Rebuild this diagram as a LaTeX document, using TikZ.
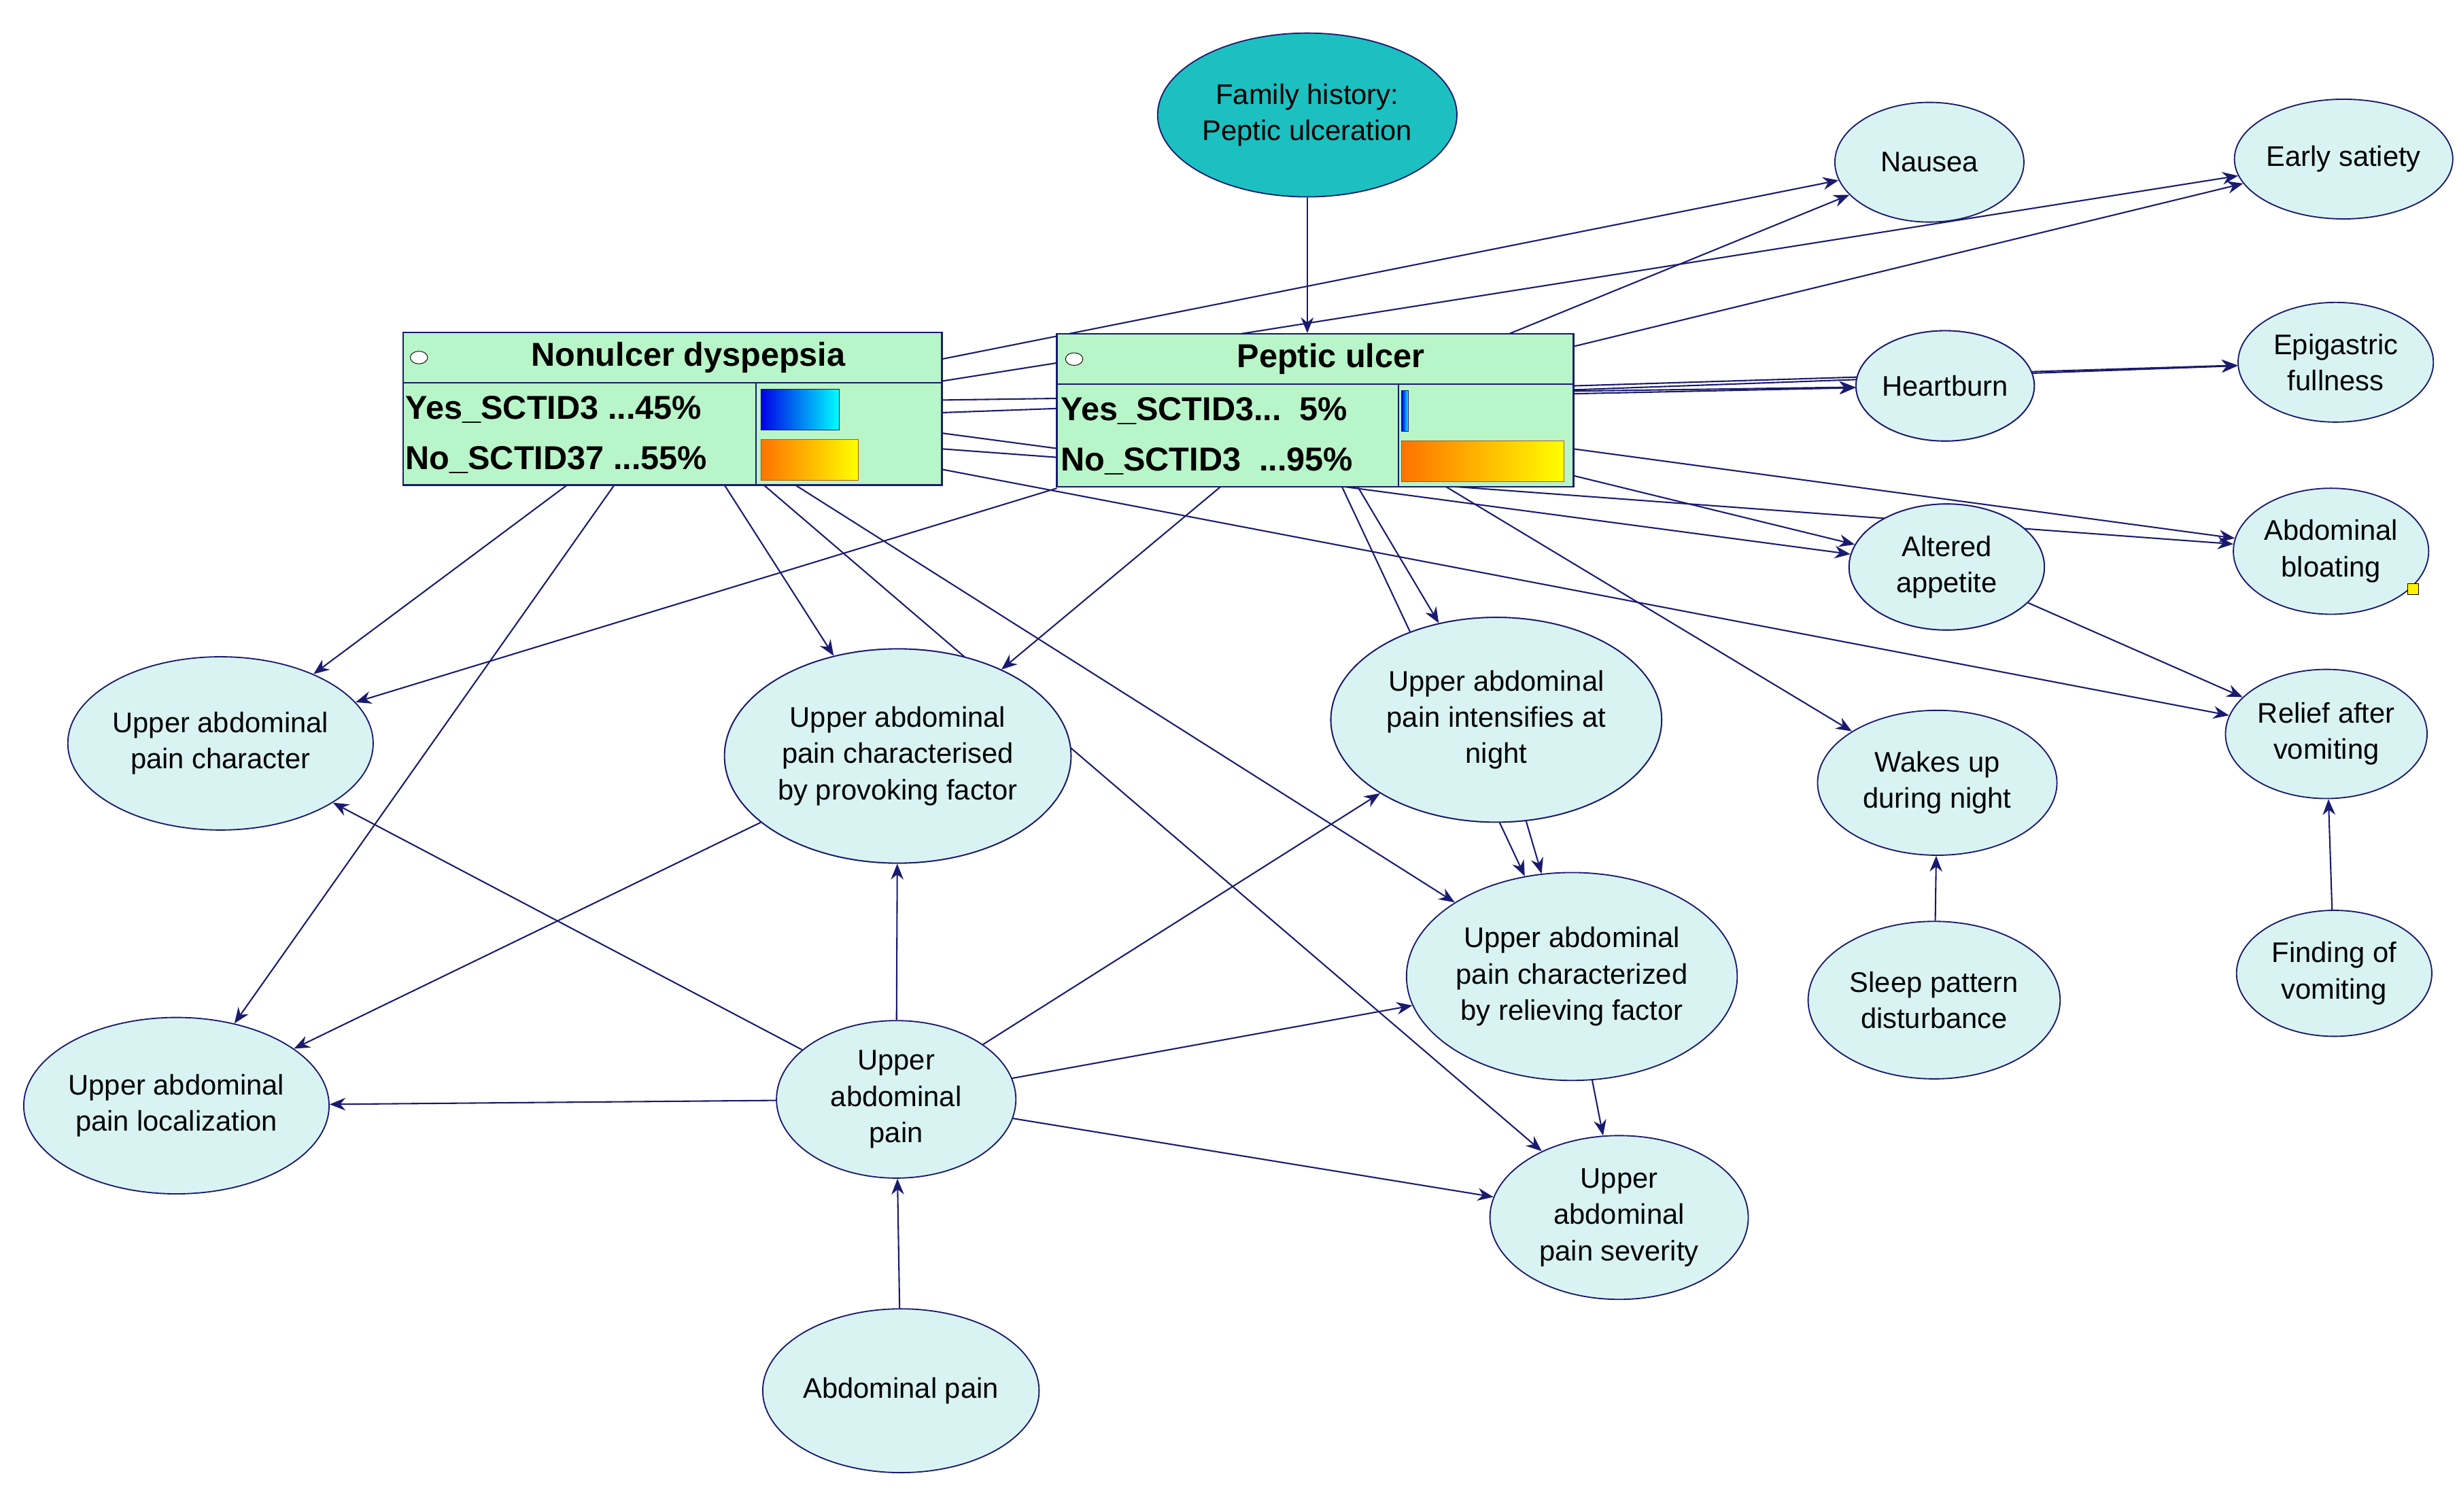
\documentclass[tikz,border=0pt]{standalone}
\usepackage{fontspec}
\setmainfont{Liberation Sans}
\usetikzlibrary{arrows.meta,shapes.geometric}
\definecolor{nv}{HTML}{1A1A70}
\definecolor{nf}{HTML}{D9F3F3}
\definecolor{bx}{HTML}{B8F5C8}
\definecolor{fh}{HTML}{1CC0C0}
\begin{document}
\begin{tikzpicture}[x=1pt,y=-1pt,
  nd/.style={ellipse,draw=nv,line width=0.8pt,fill=nf,align=center,inner sep=0pt,font=\fontsize{18}{23}\selectfont},
  ed/.style={draw=nv,line width=0.9pt,-{Stealth[length=10pt,width=8pt]}},
  st/.style={anchor=west,font=\bfseries\fontsize{21}{24}\selectfont}]
\useasboundingbox (0,0) rectangle (1560,960);
\newcommand{\el}[6]{\node[nd,minimum width=#4pt,minimum height=#5pt#6] (#1) at #2 {#3};}
\node[draw=nv,line width=1pt,fill=bx,minimum width=342pt,minimum height=97pt,inner sep=0pt] (NU) at (427,259.5) {};
\node[draw=nv,line width=1pt,fill=bx,minimum width=328pt,minimum height=97pt,inner sep=0pt] (PU) at (835,260.5) {};
\el{FH}{(830,73)}{Family history:\\Peptic ulceration}{190}{104}{,fill=fh}
\el{NA}{(1225,103)}{Nausea}{120}{76}{}
\el{ES}{(1488,101)}{Early satiety}{122}{76}{}
\el{HB}{(1235,245)}{Heartburn}{106}{70}{}
\el{EF}{(1483,230)}{Epigastric\\fullness}{124}{76}{}
\el{AA}{(1236,360)}{Altered\\appetite}{124}{80}{}
\el{AB}{(1480,350)}{Abdominal\\bloating}{124}{80}{}
\el{RV}{(1477,466)}{Relief after\\vomiting}{128}{82}{}
\el{WU}{(1230,497)}{Wakes up\\during night}{152}{92}{}
\el{SP}{(1228,635)}{Sleep pattern\\disturbance}{160}{100}{}
\el{FV}{(1482,618)}{Finding of\\vomiting}{124}{80}{}
\el{CH}{(140,472)}{Upper abdominal\\pain character}{176}{110}{}
\el{PF}{(570,480)}{Upper abdominal\\pain characterised\\by provoking factor}{220}{136}{}
\el{IN}{(950,457)}{Upper abdominal\\pain intensifies at\\night}{210}{130}{}
\el{RF}{(998,620)}{Upper abdominal\\pain characterized\\by relieving factor}{210}{132}{}
\el{LO}{(112,702)}{Upper abdominal\\pain localization}{180}{112}{}
\el{UP}{(569,698)}{Upper\\abdominal\\pain}{152}{100}{}
\el{SV}{(1028,773)}{Upper\\abdominal\\pain severity}{164}{104}{}
\el{AP}{(572,883)}{Abdominal pain}{172}{104}{}
\draw[ed] (FH) -- (PU.north -| FH);
\draw[ed] (598,228) -- (NA);
\draw[ed] (598,242) -- (ES);
\draw[ed] (958,212) -- (NA);
\draw[ed] (999,220) -- (ES);
\draw[ed] (598,254) -- (HB);
\draw[ed] (999,250) -- (HB);
\draw[ed] (598,262) -- (EF);
\draw[ed] (999,245) -- (EF);
\draw[ed] (598,275) -- (AA);
\draw[ed] (999,302) -- (AA);
\draw[ed] (598,285) -- (AB);
\draw[ed] (999,285) -- (AB);
\draw[ed] (598,298) -- (RV);
\draw[ed] (AA) -- (RV);
\draw[ed] (918,309) -- (WU);
\draw[ed] (SP) -- (WU);
\draw[ed] (FV) -- (RV);
\draw[ed] (360,308) -- (CH);
\draw[ed] (671,310) -- (CH);
\draw[ed] (390,308) -- (LO);
\draw[ed] (460,308) -- (PF);
\draw[ed] (775,309) -- (PF);
\draw[ed] (505,308) -- (RF);
\draw[ed] (485,308) -- (SV);
\draw[ed] (862,309) -- (IN);
\draw[ed] (852,309) -- (RF);
\draw[ed] (IN) -- (RF);
\draw[ed] (RF) -- (SV);
\draw[ed] (PF) -- (LO);
\draw[ed] (UP) -- (CH);
\draw[ed] (UP) -- (LO);
\draw[ed] (UP) -- (PF);
\draw[ed] (UP) -- (IN);
\draw[ed] (UP) -- (RF);
\draw[ed] (UP) -- (SV);
\draw[ed] (AP) -- (UP);
% redraw nodes crossed by edges
\el{HB2}{(1235,245)}{Heartburn}{106}{70}{}
\el{AA2}{(1236,360)}{Altered\\appetite}{124}{80}{}
\el{IN2}{(950,457)}{Upper abdominal\\pain intensifies at\\night}{210}{130}{}
\el{PF2}{(570,480)}{Upper abdominal\\pain characterised\\by provoking factor}{220}{136}{}
% box contents
\node[draw=nv,line width=1pt,fill=bx,minimum width=342pt,minimum height=97pt,inner sep=0pt] (NUb) at (427,259.5) {};
\draw[nv,line width=1pt] (256,243) -- (598,243) (480,243) -- (480,308);
\node[draw=black,fill=white,ellipse,minimum width=11pt,minimum height=8pt,inner sep=0pt] (c1) at (266,227) {};
\node[font=\bfseries\fontsize{21}{24}\selectfont] (t1) at (437,227) {Nonulcer dyspepsia};
\node[st] (y1) at (254,260) {Yes\_SCTID3 ...45\%};
\node[st] (n1) at (254,292) {No\_SCTID37 ...55\%};
\shade[left color=blue!90!black,right color=cyan] (483,247) rectangle (533,273);
\draw[nv] (483,247) rectangle (533,273);
\shade[left color=orange!90!red,right color=yellow] (483,279) rectangle (545,305);
\draw[orange!70!black] (483,279) rectangle (545,305);
\node[draw=nv,line width=1pt,fill=bx,minimum width=328pt,minimum height=97pt,inner sep=0pt] (PUb) at (835,260.5) {};
\draw[nv,line width=1pt] (671,244) -- (999,244) (888,244) -- (888,309);
\node[draw=black,fill=white,ellipse,minimum width=11pt,minimum height=8pt,inner sep=0pt] (c2) at (682,228) {};
\node[font=\bfseries\fontsize{21}{24}\selectfont] (t2) at (845,228) {Peptic ulcer};
\node[st] (y2) at (670,261) {Yes\_SCTID3...\ \ 5\%};
\node[st] (n2) at (670,293) {No\_SCTID3 \ ...95\%};
\shade[left color=blue!90!black,right color=cyan] (890,248) rectangle (894,274);
\draw[nv] (890,248) rectangle (894,274);
\shade[left color=orange!90!red,right color=yellow] (890,280) rectangle (993,306);
\draw[orange!70!black] (890,280) rectangle (993,306);
\node[draw=black,fill=yellow,minimum size=7pt,inner sep=0pt] (nt) at (1532,374) {};
\end{tikzpicture}
\end{document}
